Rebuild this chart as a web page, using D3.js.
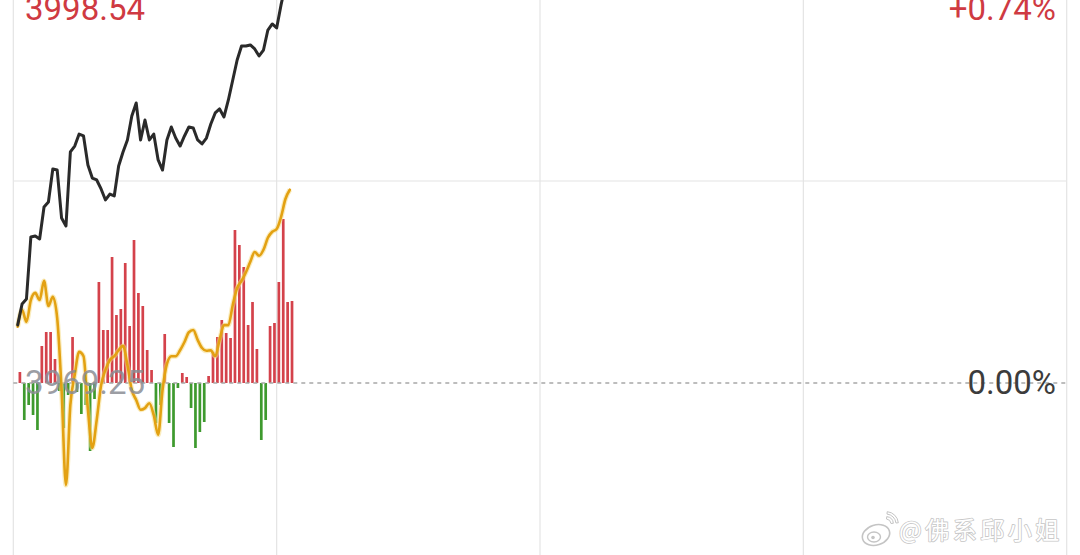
<!DOCTYPE html>
<html>
<head>
<meta charset="utf-8">
<script src="https://cdn.jsdelivr.net/npm/d3@7"></script>
<style>
html,body{margin:0;padding:0;background:#fff;overflow:hidden;}
svg{display:block;}
</style>
</head>
<body>
<div id="chart"></div>
<script>
// ---- data ----
const prevClose = 3969.25;
const priceMax = 3998.54;
const pctMax = 0.74;
const sessionMinutes = [0, 60, 120, 180, 240];
const gridPct = [0.74, 0.37, -0.37, -0.74];
const priceLabels = ["3998.54", "3969.25"];
const pctLabels = ["+0.74%", "0.00%"];
const watermark = "@佛系邱小姐";

// index price, one point per minute from 09:31
const price = [
  3973.46, 3974.98, 3975.34, 3979.84, 3979.91, 3979.69, 3982.01, 3982.37, 3984.77, 3984.69,
  3981.21, 3980.63, 3986.00, 3986.43, 3987.30, 3987.16, 3985.06, 3984.11, 3983.97, 3983.32,
  3982.52, 3982.95, 3982.81, 3984.98, 3986.00, 3986.87, 3988.61, 3989.55, 3986.87, 3988.32,
  3986.87, 3987.30, 3985.42, 3984.69, 3986.87, 3987.81, 3987.01, 3986.43, 3987.16, 3987.81,
  3987.74, 3986.87, 3986.58, 3987.01, 3988.03, 3988.83, 3989.12, 3988.54, 3989.77, 3991.22,
  3992.67, 3993.68, 3993.68, 3993.76, 3993.47, 3992.96, 3993.39, 3994.84, 3995.28, 3994.99,
  3996.66, 3998.11, 3998.54
];

// leading line (percent change)
const leadPct = [
  0.103, 0.134, 0.112, 0.152, 0.165, 0.152, 0.187, 0.141, 0.158, 0.119,
  -0.013, -0.187, -0.040, 0.015, 0.057, 0.049, -0.049, -0.119, -0.068, -0.004,
  0.024, 0.042, 0.049, 0.060, 0.068, 0.033, -0.013, -0.031, -0.049, -0.046,
  -0.037, -0.059, -0.095, -0.013, 0.035, 0.049, 0.049, 0.060, 0.075, 0.093,
  0.097, 0.079, 0.064, 0.059, 0.060, 0.049, 0.079, 0.106, 0.106, 0.143,
  0.174, 0.187, 0.203, 0.222, 0.240, 0.233, 0.244, 0.266, 0.277, 0.282,
  0.304, 0.337, 0.354
];

// buy/sell strength bars
const strength = [
  11, -37, -22, -32, -47, 37, 51, 51, 24, -8,
  -45, -12, 46, -9, -31, -22, -68, -16, 101, 53,
  53, 126, 68, 74, 120, 57, 143, 90, 77, 33,
  13, -40, -22, 49, -40, -64, -5, 10, 6, -25,
  -65, -49, -39, 7, 31, 46, 63, 50, 45, 153,
  138, 116, 58, 81, 34, -57, -37, 57, 60, 101,
  164, 81, 82
];
const strengthMax = 404;

// ---- layout ----
const W = 1080, H = 555;
const plotLeft = 13.3, plotRight = 1066.7, plotTop = -21, plotBottom = 787;

const svg = d3.select("#chart").append("svg")
  .attr("width", W).attr("height", H)
  .style("font-family", "Roboto, 'Noto Sans', sans-serif");

const x = d3.scaleLinear().domain([0, 240]).range([plotLeft, plotRight]);
const yPrice = d3.scaleLinear()
  .domain([prevClose - (priceMax - prevClose), priceMax]).range([plotBottom, plotTop]);
const yPct = d3.scaleLinear().domain([-pctMax, pctMax]).range([plotBottom, plotTop]);
const yBar = d3.scaleLinear().domain([-strengthMax, strengthMax]).range([plotBottom, plotTop]);

svg.append("defs").append("clipPath").attr("id", "clip")
  .append("rect").attr("x", 0).attr("y", 0).attr("width", W).attr("height", H);

const g = svg.append("g").attr("clip-path", "url(#clip)");

// grid
g.selectAll(".vgrid").data(sessionMinutes).enter().append("line")
  .attr("x1", d => x(d)).attr("x2", d => x(d))
  .attr("y1", plotTop).attr("y2", H)
  .attr("stroke", "#e4e4e4").attr("stroke-width", 1.2);
g.selectAll(".hgrid").data(gridPct).enter().append("line")
  .attr("x1", plotLeft).attr("x2", plotRight)
  .attr("y1", d => yPct(d)).attr("y2", d => yPct(d))
  .attr("stroke", "#e4e4e4").attr("stroke-width", 1.2);

// bars
const barW = 2.7;
g.selectAll(".bar").data(strength).enter().append("rect")
  .attr("x", (d, i) => x(i + 1) + 2.2 - barW / 2)
  .attr("width", barW)
  .attr("y", d => d >= 0 ? yBar(d) : yBar(0))
  .attr("height", d => Math.abs(yBar(d) - yBar(0)))
  .attr("fill", d => d >= 0 ? "#d4424b" : "#3e9a2e");

// zero line
g.append("line")
  .attr("x1", plotLeft).attr("x2", plotRight)
  .attr("y1", yPct(0)).attr("y2", yPct(0))
  .attr("stroke", "#a8a8a8").attr("stroke-width", 1.3)
  .attr("stroke-dasharray", "4,4");

// lead line
const leadLine = d3.line()
  .x((d, i) => x(i + 1)).y(d => yPct(d))
  .curve(d3.curveMonotoneX);
g.append("path").datum(leadPct)
  .attr("d", leadLine).attr("fill", "none")
  .attr("stroke", "#f6dc86").attr("stroke-width", 5).attr("stroke-opacity", 0.55)
  .attr("stroke-linejoin", "round");
g.append("path").datum(leadPct)
  .attr("d", leadLine).attr("fill", "none")
  .attr("stroke", "#e3a112").attr("stroke-width", 2.6)
  .attr("stroke-linejoin", "round").attr("stroke-linecap", "round");

// price line
const priceLine = d3.line()
  .x((d, i) => x(i + 1)).y(d => yPrice(d));
g.append("path").datum(price)
  .attr("d", priceLine).attr("fill", "none")
  .attr("stroke", "#2a2a2a").attr("stroke-width", 3)
  .attr("stroke-linejoin", "round").attr("stroke-linecap", "round");

// labels
const fs = 33;
g.append("text").text(priceLabels[0])
  .attr("x", 25).attr("y", yPrice(priceMax) + 41)
  .attr("font-size", fs).attr("fill", "#cf3a42");
g.append("text").text(pctLabels[0])
  .attr("x", 1056).attr("y", yPct(pctMax) + 41).attr("text-anchor", "end")
  .attr("font-size", fs).attr("fill", "#cf3a42");
g.append("text").text(priceLabels[1])
  .attr("x", 25).attr("y", yPrice(prevClose) + 10.5)
  .attr("font-size", fs).attr("fill", "#8a8d94").attr("fill-opacity", 0.85);
g.append("text").text(pctLabels[1])
  .attr("x", 1056).attr("y", yPct(0) + 10.5).attr("text-anchor", "end")
  .attr("font-size", fs).attr("fill", "#3c3c3c");

// watermark
const wm = svg.append("g").attr("transform", "translate(878,532)");
const wmStroke = "#c4c4c4";
wm.append("ellipse").attr("cx", -2).attr("cy", 3).attr("rx", 14).attr("ry", 10)
  .attr("transform", "rotate(-18,-2,3)")
  .attr("fill", "#fff").attr("stroke", wmStroke).attr("stroke-width", 1.6);
wm.append("ellipse").attr("cx", -4).attr("cy", 5).attr("rx", 6.5).attr("ry", 5)
  .attr("fill", "#fff").attr("stroke", wmStroke).attr("stroke-width", 1.4);
wm.append("circle").attr("cx", -5).attr("cy", 5.5).attr("r", 1.8).attr("fill", wmStroke);
const arc = d3.arc();
[5, 10].forEach(r => {
  wm.append("path")
    .attr("transform", "translate(8,-8)")
    .attr("d", arc({innerRadius: r, outerRadius: r + 2.4, startAngle: 0.1, endAngle: Math.PI / 2 - 0.1}))
    .attr("fill", "#fff").attr("stroke", wmStroke).attr("stroke-width", 1);
});
svg.append("text").text(watermark)
  .attr("x", 899).attr("y", 539)
  .attr("font-family", "'Noto Sans CJK SC', sans-serif")
  .attr("font-size", 24)
  .attr("letter-spacing", 3.5)
  .attr("fill", "#ffffff").attr("stroke", "#c6c6c6").attr("stroke-width", 1.6)
  .attr("paint-order", "stroke").attr("stroke-linejoin", "round");
</script>
</body>
</html>
